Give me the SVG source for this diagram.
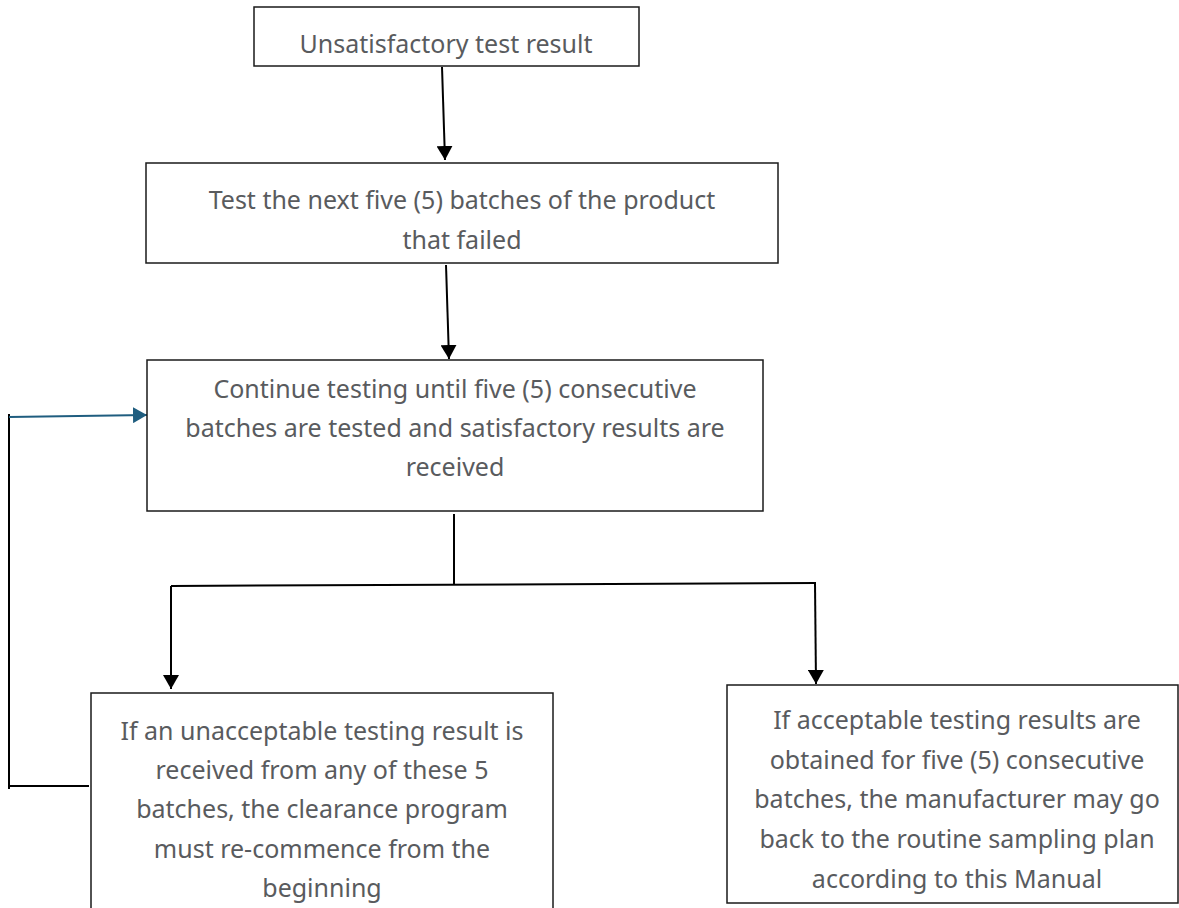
<svg xmlns="http://www.w3.org/2000/svg" width="1179" height="908" viewBox="0 0 1179 908">
<style>
.box{fill:#fff;stroke:#1a1a1a;stroke-width:1.5}
.t{font-family:"Noto Sans","DejaVu Sans",sans-serif;font-size:25px;fill:#595b5e;text-anchor:middle}
.c{fill:none;stroke:#000;stroke-width:2}
.cb{fill:none;stroke:#1f5d7f;stroke-width:2}
</style>
<defs>
<marker id="ah" markerWidth="16" markerHeight="16" refX="14" refY="8" orient="auto" markerUnits="userSpaceOnUse"><path d="M0,0 L14,8 L0,16 z" fill="#000"/></marker>
<marker id="ahb" markerWidth="16" markerHeight="16" refX="14" refY="8" orient="auto" markerUnits="userSpaceOnUse"><path d="M0,0 L14,8 L0,16 z" fill="#1f5d7f"/></marker>
</defs>
<g id="connectors">
<line class="c" x1="442" y1="67" x2="445" y2="160" marker-end="url(#ah)"/>
<line class="c" x1="446" y1="265" x2="449" y2="359" marker-end="url(#ah)"/>
<line class="c" x1="454" y1="514" x2="454" y2="585"/>
<line class="c" x1="171" y1="586" x2="816" y2="583"/>
<line class="c" x1="171" y1="586" x2="171" y2="689" marker-end="url(#ah)"/>
<line class="c" x1="815" y1="583" x2="816" y2="684" marker-end="url(#ah)"/>
<line class="c" x1="8" y1="786" x2="89" y2="786"/>
<line class="c" x1="9" y1="414" x2="9" y2="789"/>
<line class="cb" x1="9" y1="417" x2="147" y2="415" marker-end="url(#ahb)"/>
</g>
<g id="n1">
<rect class="box" x="254" y="7" width="385" height="59"/>
<text class="t" x="446" y="53">Unsatisfactory test result</text>
</g>
<g id="n2">
<rect class="box" x="146" y="163" width="632" height="100"/>
<text class="t" x="462" y="209">Test the next five (5) batches of the product</text>
<text class="t" x="462" y="249">that failed</text>
</g>
<g id="n3">
<rect class="box" x="147" y="360" width="616" height="151"/>
<text class="t" x="455" y="398">Continue testing until five (5) consecutive</text>
<text class="t" x="455" y="437">batches are tested and satisfactory results are</text>
<text class="t" x="455" y="476">received</text>
</g>
<g id="n4">
<rect class="box" x="91" y="693" width="462" height="230"/>
<text class="t" x="322" y="740">If an unacceptable testing result is</text>
<text class="t" x="322" y="779">received from any of these 5</text>
<text class="t" x="322" y="818">batches, the clearance program</text>
<text class="t" x="322" y="858">must re-commence from the</text>
<text class="t" x="322" y="897">beginning</text>
</g>
<g id="n5">
<rect class="box" x="727" y="685" width="451" height="218"/>
<text class="t" x="957" y="729">If acceptable testing results are</text>
<text class="t" x="957" y="769">obtained for five (5) consecutive</text>
<text class="t" x="957" y="808">batches, the manufacturer may go</text>
<text class="t" x="957" y="848">back to the routine sampling plan</text>
<text class="t" x="957" y="888">according to this Manual</text>
</g>
</svg>
